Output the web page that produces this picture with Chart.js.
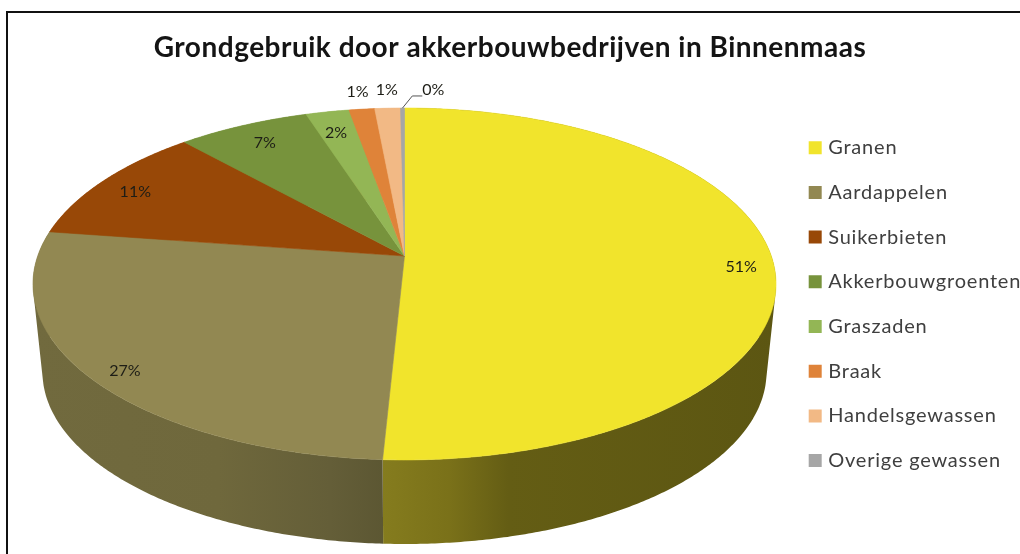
<!DOCTYPE html>
<html>
<head>
<meta charset="utf-8">
<style>
  html, body { margin: 0; padding: 0; background: #fff; }
  #wrap { width: 1020px; height: 554px; overflow: hidden; }
</style>
<script src="https://cdn.jsdelivr.net/npm/chart.js@4/dist/chart.umd.min.js"></script>
</head>
<body>
<div id="wrap"><canvas id="chart" width="1020" height="554"></canvas></div>
<script>
const chartTitle = 'Grondgebruik door akkerbouwbedrijven in Binnenmaas';
const categories = ['Granen', 'Aardappelen', 'Suikerbieten', 'Akkerbouwgroenten', 'Graszaden', 'Braak', 'Handelsgewassen', 'Overige gewassen'];
const shares = [50.8, 26.5, 11.0, 6.7, 2.2, 1.3, 1.3, 0.2];
const sliceColors = ['#f1e42c', '#928852', '#984807', '#77933c', '#93b655', '#df8339', '#f2b985', '#a6a6a6'];

// Shading of the rim: colour stops across the pie's width, for the slices facing the viewer.
const rimStops = [
  [[0.47, '#857c1e'], [0.56, '#7a7119'], [0.64, '#645d14'], [1, '#5c5612']],
  [[0, '#716a3e'], [0.25, '#6f683c'], [0.4, '#645e38'], [0.48, '#5b5632']],
  null, null, null, null, null, null
];

// Label placement along each slice's middle: radius as a fraction, then a small nudge.
const labelRadius = [0.92, 0.9, 0.88, 0.85, 0.86, 1.12, 1.12, 1.12];
const labelNudgeX = [-2, 1, -2, 0, -1, 0, 1, 31];
const labelNudgeY = [7, 7, 2, 0, 3, -2, -3, -3];

// Perspective of the disc: top face and bottom face of the cylinder.
const topFace = { cx: 404.5, cy: 256, ax: 366.8, ay: 171.5 };
const bottomFace = { cx: 404.5, cy: 344.7, ax: 357.4, ay: 167.6 };
const tilt = 0.159;
const pieLeft = 33, pieRight = 776;

function project(face, theta, r = 1) {
  const u = Math.sin(theta) * r, v = -Math.cos(theta) * r;
  const w = 1 - tilt * v;
  return { x: face.cx + face.ax * u / w, y: face.cy + face.ay * v / w };
}

// Angle measured clockwise from twelve o'clock, read from an arc element.
const arcAngles = arc => [arc.startAngle + Math.PI / 2, arc.endAngle + Math.PI / 2];

const STEP = Math.PI / 360;

const pie3d = {
  id: 'pie3d',
  beforeDatasetsDraw(chart) {
    const ctx = chart.ctx;
    const arcs = chart.getDatasetMeta(0).data;
    const colors = chart.data.datasets[0].backgroundColor;

    // Rim, swept strip by strip from the slices' own angles
    arcs.forEach((arc, i) => {
      const [a0, a1] = arcAngles(arc);
      const grad = ctx.createLinearGradient(pieLeft, 0, pieRight, 0);
      if (rimStops[i]) rimStops[i].forEach(([p, c]) => grad.addColorStop(p, c));
      else { grad.addColorStop(0, colors[i]); grad.addColorStop(1, colors[i]); }
      ctx.beginPath();
      const n = Math.max(2, Math.ceil((a1 - a0) / STEP));
      for (let k = 0; k < n; k++) {
        const t0 = a0 + (a1 - a0) * k / n, t1 = a0 + (a1 - a0) * (k + 1) / n;
        const p0 = project(topFace, t0), p1 = project(topFace, t1);
        const q1 = project(bottomFace, t1), q0 = project(bottomFace, t0);
        // every strip wound the same way, whichever way it faces
        const area = (p1.x - p0.x) * (q0.y - p0.y) - (p1.y - p0.y) * (q0.x - p0.x);
        const pts = area > 0 ? [p0, p1, q1, q0] : [q0, q1, p1, p0];
        ctx.moveTo(pts[0].x, pts[0].y);
        pts.slice(1).forEach(p => ctx.lineTo(p.x, p.y));
        ctx.closePath();
      }
      ctx.fillStyle = grad;
      ctx.fill();
    });

    // Top face
    arcs.forEach((arc, i) => {
      const [a0, a1] = arcAngles(arc);
      const n = Math.max(2, Math.ceil((a1 - a0) / STEP));
      ctx.beginPath();
      ctx.moveTo(topFace.cx, topFace.cy);
      for (let k = 0; k <= n; k++) {
        const p = project(topFace, a0 + (a1 - a0) * k / n);
        ctx.lineTo(p.x, p.y);
      }
      ctx.closePath();
      ctx.fillStyle = colors[i];
      ctx.strokeStyle = colors[i];
      ctx.lineWidth = 0.6;
      ctx.fill();
      ctx.stroke();
    });

    // Percent labels, rounded from each slice's share
    const total = shares.reduce((a, b) => a + b, 0);
    ctx.font = '16px Lato';
    ctx.fillStyle = '#1d1d16';
    ctx.textAlign = 'center';
    ctx.textBaseline = 'middle';
    arcs.forEach((arc, i) => {
      const [a0, a1] = arcAngles(arc);
      const mid = (a0 + a1) / 2;
      const p = project(topFace, mid, labelRadius[i]);
      const x = p.x + labelNudgeX[i], y = p.y + labelNudgeY[i];
      ctx.fillText(Math.round(shares[i] / total * 100) + '%', x, y);
      if (labelNudgeX[i] > 10) {
        const rim = project(topFace, mid);
        ctx.beginPath();
        ctx.moveTo(rim.x, rim.y);
        ctx.lineTo(x - 21, y + 6);
        ctx.lineTo(x - 11, y + 6);
        ctx.strokeStyle = '#555';
        ctx.lineWidth = 1;
        ctx.stroke();
      }
    });
    return false;
  },
  beforeDraw(chart) {
    // Frame, open at the right and the bottom
    const ctx = chart.ctx;
    ctx.save();
    ctx.strokeStyle = '#111';
    ctx.lineWidth = 2;
    ctx.beginPath();
    ctx.moveTo(7, 554);
    ctx.lineTo(7, 12);
    ctx.lineTo(1020, 12);
    ctx.stroke();
    ctx.restore();
  },
  afterLayout(chart) {
    // Legend column sits right of the pie
    const lg = chart.legend;
    lg.left = 787.5;
    lg.top = 113;
    lg.right = 1020;
    lg.bottom = 554;
    spaced(lg, chart.ctx, '0.8px');
    spaced(chart.titleBlock, chart.ctx, '0.5px');
  }
};

// Gives one layout box its own tracking while it draws.
function spaced(box, ctx, spacing) {
  if (box.spacedDraw) return;
  const draw = box.draw;
  box.spacedDraw = true;
  box.draw = function (...args) {
    ctx.letterSpacing = spacing;
    draw.apply(this, args);
    ctx.letterSpacing = '0px';
  };
}

new Chart(document.getElementById('chart'), {
  type: 'pie',
  data: {
    labels: categories,
    datasets: [{ data: shares, backgroundColor: sliceColors, borderWidth: 0 }]
  },
  plugins: [pie3d],
  options: {
    responsive: false,
    animation: false,
    events: [],
    plugins: {
      tooltip: { enabled: false },
      title: {
        display: true,
        text: chartTitle,
        color: '#141414',
        font: { family: 'Lato', size: 28, weight: '700' },
        padding: { top: 31, bottom: 10 }
      },
      legend: {
        position: 'right',
        align: 'start',
        labels: {
          color: '#3f3f3f',
          font: { family: 'Lato', size: 20 },
          boxWidth: 6,
          boxHeight: 6,
          padding: 24.7,
          generateLabels(chart) {
            return chart.data.labels.map((text, i) => ({
              text,
              index: i,
              fillStyle: sliceColors[i],
              strokeStyle: sliceColors[i],
              lineWidth: 7,
              fontColor: '#3f3f3f'
            }));
          }
        }
      }
    }
  }
});
</script>
</body>
</html>
